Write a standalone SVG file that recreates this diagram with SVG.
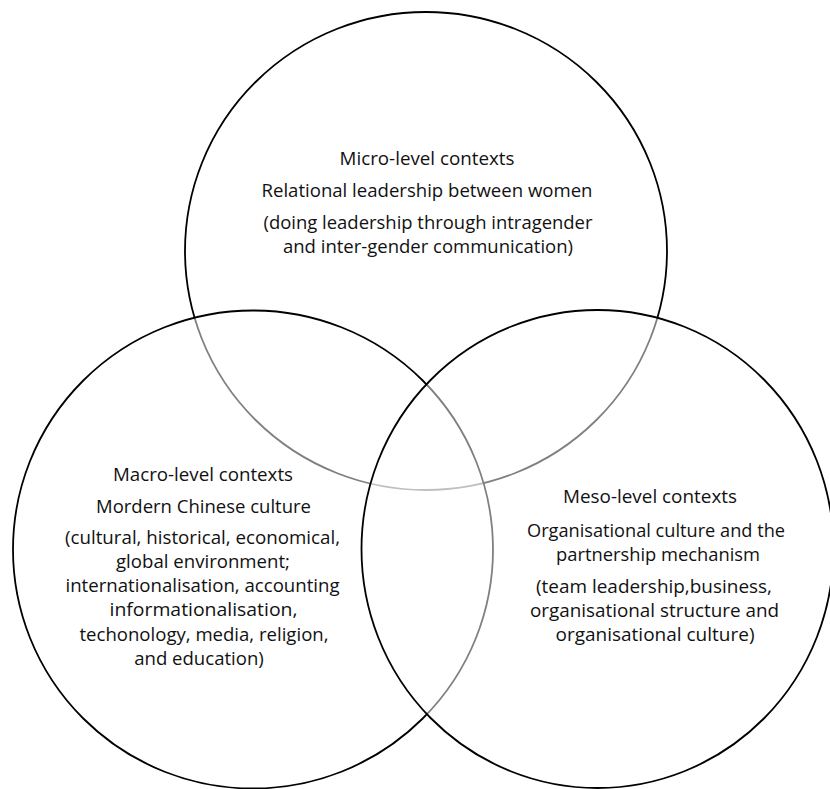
<svg xmlns="http://www.w3.org/2000/svg" width="830" height="789" viewBox="0 0 830 789">
  <style>
    .ring { fill: #ffffff; fill-opacity: 0.5; stroke: #000000; stroke-width: 1.8; }
    .lbl { font-family: "Open Sans", "Noto Sans", "Liberation Sans", sans-serif; font-size: 18.5px; fill: #111111; text-anchor: middle; }
  </style>
  <rect x="0" y="0" width="830" height="789" fill="#ffffff"/>

  <!-- Micro level: upper circle -->
  <g id="micro">
    <ellipse class="ring" cx="426" cy="251" rx="241" ry="239"/>
    <text class="lbl" x="427" y="165" textLength="175" lengthAdjust="spacingAndGlyphs">Micro-level contexts</text>
    <text class="lbl" x="427" y="197" textLength="331" lengthAdjust="spacingAndGlyphs">Relational leadership between women</text>
    <text class="lbl" x="428" y="228.5" textLength="329" lengthAdjust="spacingAndGlyphs">(doing leadership through intragender</text>
    <text class="lbl" x="428" y="252.5" textLength="290" lengthAdjust="spacingAndGlyphs">and inter-gender communication)</text>
  </g>

  <!-- Macro level: lower-left circle -->
  <g id="macro">
    <ellipse class="ring" cx="253" cy="549.5" rx="240" ry="239"/>
    <text class="lbl" x="203" y="481" textLength="180" lengthAdjust="spacingAndGlyphs">Macro-level contexts</text>
    <text class="lbl" x="203.5" y="513" textLength="215" lengthAdjust="spacingAndGlyphs">Mordern Chinese culture</text>
    <text class="lbl" x="202.5" y="543.5" textLength="275" lengthAdjust="spacingAndGlyphs">(cultural, historical, economical,</text>
    <text class="lbl" x="203" y="567.8" textLength="174" lengthAdjust="spacingAndGlyphs">global environment;</text>
    <text class="lbl" x="202.5" y="592" textLength="274" lengthAdjust="spacingAndGlyphs">internationalisation, accounting</text>
    <text class="lbl" x="203.5" y="616.4" textLength="188" lengthAdjust="spacingAndGlyphs">informationalisation,</text>
    <text class="lbl" x="204" y="640.7" textLength="249" lengthAdjust="spacingAndGlyphs">techonology, media, religion,</text>
    <text class="lbl" x="199" y="665" textLength="129.5" lengthAdjust="spacingAndGlyphs">and education)</text>
  </g>

  <!-- Meso level: lower-right circle -->
  <g id="meso">
    <ellipse class="ring" cx="597.5" cy="549" rx="236" ry="239"/>
    <text class="lbl" x="650" y="503.3" textLength="174" lengthAdjust="spacingAndGlyphs">Meso-level contexts</text>
    <text class="lbl" x="656" y="536.7" textLength="258" lengthAdjust="spacingAndGlyphs">Organisational culture and the</text>
    <text class="lbl" x="658" y="560.5" textLength="204" lengthAdjust="spacingAndGlyphs">partnership mechanism</text>
    <text class="lbl" x="654" y="592.7" textLength="236" lengthAdjust="spacingAndGlyphs">(team leadership,business,</text>
    <text class="lbl" x="654.5" y="616.7" textLength="249" lengthAdjust="spacingAndGlyphs">organisational structure and</text>
    <text class="lbl" x="655" y="640.5" textLength="199" lengthAdjust="spacingAndGlyphs">organisational culture)</text>
  </g>

  <!-- no connectors in this diagram -->
  <g id="connectors"/>
</svg>
